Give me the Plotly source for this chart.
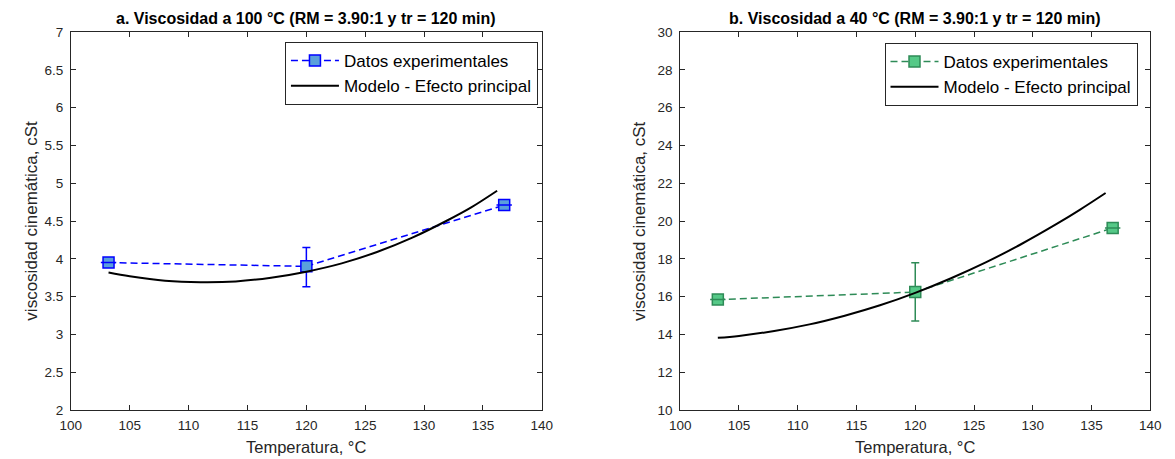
import plotly.graph_objects as go

# ---------------- data ----------------
temp_exp = [103.2, 120.0, 136.8]

visc100_exp = [3.95, 3.90, 4.71]
visc100_err_plus = [0.0, 0.25, 0.0]
visc100_err_minus = [0.0, 0.27, 0.0]

visc40_exp = [15.84, 16.24, 19.63]
visc40_err_plus = [0.0, 1.55, 0.0]
visc40_err_minus = [0.0, 1.53, 0.0]

temp_model = [103.2, 105, 108, 111, 114, 117, 120, 123, 126, 129, 132, 134, 136.2]
visc100_model = [3.82, 3.77, 3.71, 3.69, 3.70, 3.75, 3.83, 3.94, 4.09, 4.28, 4.51, 4.68, 4.90]
visc40_model = [13.82, 13.92, 14.18, 14.53, 14.99, 15.54, 16.20, 16.96, 17.81, 18.77, 19.83, 20.59, 21.48]

x_ticks = [100, 105, 110, 115, 120, 125, 130, 135, 140]
y100_ticks = [2, 2.5, 3, 3.5, 4, 4.5, 5, 5.5, 6, 6.5, 7]
y40_ticks = [10, 12, 14, 16, 18, 20, 22, 24, 26, 28, 30]

titles = ["a. Viscosidad a 100 °C (RM = 3.90:1 y tr = 120 min)",
          "b. Viscosidad a 40 °C (RM = 3.90:1 y tr = 120 min)"]
x_title = "Temperatura, °C"
y_title = "viscosidad cinemática, cSt"
legend_exp = "Datos experimentales"
legend_model = "Modelo - Efecto principal"

# ---------------- style ----------------
W, H = 1175, 459
FONT = "Arial, 'Liberation Sans', Helvetica, sans-serif"
AX = "#262626"
blue_line, blue_fill = "#0000ff", "#5aa0dc"
green_line, green_fill = "#2e8b57", "#55c987"

fig = go.Figure()


def add_panel(xref, yref, yvals, eplus, eminus, model, lcol, fcol, legend):
    fig.add_trace(go.Scatter(
        x=temp_exp, y=yvals, xaxis=xref, yaxis=yref, mode="lines+markers",
        name=legend_exp, legend=legend,
        line=dict(color=lcol, width=1.5, dash="7px,4px"),
        marker=dict(symbol="square", size=11, color=fcol, line=dict(color=lcol, width=1.5)),
        error_y=dict(type="data", array=eplus, arrayminus=eminus, color=lcol,
                     thickness=1.5, width=4, symmetric=False),
    ))
    # zero-length caps drawn across the markers
    fig.add_trace(go.Scatter(
        x=[temp_exp[0], temp_exp[2]], y=[yvals[0], yvals[2]], xaxis=xref, yaxis=yref,
        mode="markers", showlegend=False, hoverinfo="skip",
        marker=dict(symbol="line-ew", size=11, color=lcol, line=dict(color=lcol, width=1.5)),
    ))
    fig.add_trace(go.Scatter(
        x=temp_model, y=model, xaxis=xref, yaxis=yref, mode="lines",
        name=legend_model, legend=legend, line=dict(color="black", width=2, shape="spline"),
    ))


add_panel("x", "y", visc100_exp, visc100_err_plus, visc100_err_minus, visc100_model,
          blue_line, blue_fill, "legend")
add_panel("x2", "y2", visc40_exp, visc40_err_plus, visc40_err_minus, visc40_model,
          green_line, green_fill, "legend2")

d1 = [61 / W, 541 / W]
d2 = [682 / W, 1161 / W]

axis_common = dict(
    showgrid=False, zeroline=False, showline=True, linecolor=AX, linewidth=1,
    mirror="ticks", ticks="inside", ticklen=5, tickcolor=AX, tickwidth=1,
    tickfont=dict(family=FONT, size=13.5, color=AX),
)

fig.update_layout(
    width=W, height=H, paper_bgcolor="white", plot_bgcolor="white",
    margin=dict(l=0, r=0, t=32, b=49),
    xaxis=dict(domain=d1, range=[100, 140], tickvals=x_ticks, anchor="y",
               ticklabelstandoff=3, **axis_common),
    yaxis=dict(domain=[0, 1], range=[2, 7], tickvals=y100_ticks, anchor="x",
               ticklabelstandoff=4, **axis_common),
    xaxis2=dict(domain=d2, range=[100, 140], tickvals=x_ticks, anchor="y2",
                ticklabelstandoff=3, **axis_common),
    yaxis2=dict(domain=[0, 1], range=[10, 30], tickvals=y40_ticks, anchor="x2",
                ticklabelstandoff=4, **axis_common),
    legend=dict(x=537 / W, xanchor="right", y=1 - 10 / 378, yanchor="top",
                bgcolor="white", bordercolor=AX, borderwidth=1,
                font=dict(family=FONT, size=17, color="black"),
                itemwidth=48, tracegroupgap=0),
    legend2=dict(x=1148 / W, xanchor="right", y=1 - 11 / 378, yanchor="top",
                 bgcolor="white", bordercolor=AX, borderwidth=1,
                 font=dict(family=FONT, size=17, color="black"),
                 itemwidth=48, tracegroupgap=0),
    showlegend=True,
)

annotations = []
for dom, title, ylabx in [(d1, titles[0], 20), (d2, titles[1], 640)]:
    cx = (dom[0] + dom[1]) / 2
    annotations.append(dict(text="<b>%s</b>" % title, x=cx, y=1, xref="paper", yref="paper",
                            xanchor="center", yanchor="bottom", yshift=3, showarrow=False,
                            font=dict(family=FONT, size=16, color="black")))
    annotations.append(dict(text=x_title, x=cx, y=0, xref="paper", yref="paper",
                            xanchor="center", yanchor="top", yshift=-26, showarrow=False,
                            font=dict(family=FONT, size=16.5, color=AX)))
    annotations.append(dict(text=y_title, x=ylabx / W, y=0.5, xref="paper", yref="paper",
                            xanchor="center", yanchor="middle", textangle=-90, showarrow=False,
                            font=dict(family=FONT, size=17, color=AX)))
fig.update_layout(annotations=annotations)

fig.write_html("out.html")
